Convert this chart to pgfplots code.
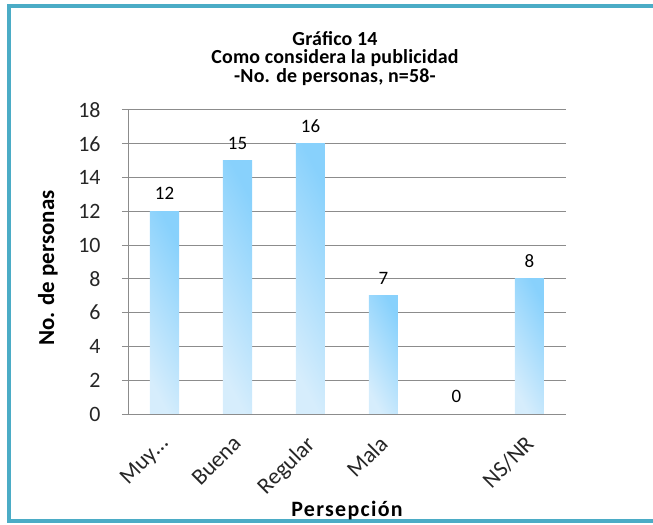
\documentclass[border=0pt]{standalone}
\usepackage{pgfplots}
\pgfplotsset{compat=1.18}
\usepackage{fontspec}
\setmainfont{Carlito}
\definecolor{framec}{HTML}{4BACC6}
\definecolor{gridc}{HTML}{8C8C8C}
\definecolor{barL}{HTML}{D6EDFC}
\definecolor{barR}{HTML}{88D1FC}
\pgfplotsset{mybar/.style={draw=none, bar shift=0pt, bottom color=barL, top color=barR, shading angle=-62}}
\begin{document}
\begin{tikzpicture}
\useasboundingbox (0bp,0bp) rectangle (653bp,525bp);
\draw[framec, line width=4bp] (700bp,519bp) -- (9bp,519bp) -- (9bp,4bp) -- (700bp,4bp);
\begin{axis}[
  at={(128bp,111bp)}, anchor=south west,
  scale only axis, width=438bp, height=304bp,
  xmin=-0.5, xmax=5.5, ymin=0, ymax=18,
  ytick={0,2,...,18},
  ymajorgrids, grid style={gridc, line width=1bp},
  axis x line*=bottom, axis y line*=left,
  axis line style={gridc, line width=1bp},
  tick align=outside, major tick length=6bp,
  y tick style={gridc, line width=1bp},
  /pgf/number format/assume math mode=true,
  yticklabel style={font=\fontsize{22}{22}\selectfont, color=black!85, xshift=-18bp},
  xtick={0,...,5},
  xticklabels={Muy…,Buena,Regular,Mala,,NS/NR},
  x tick style={draw=none},
  xticklabel style={font=\fontsize{23}{23}\selectfont, color=black!85, rotate=45, anchor=north east, xshift=-10.7bp, yshift=-2.6bp},
  extra x ticks={-0.5,0.5,1.5,2.5,3.5,4.5,5.5},
  extra x tick labels={},
  extra x tick style={grid=none, tick style={draw=gridc, line width=1bp}},
  xlabel={Persepción},
  xlabel style={font=\bfseries\fontsize{22}{22}\selectfont\addfontfeature{LetterSpace=6}, at={(axis description cs:0.5,-0.318)}, anchor=center},
  ylabel={No. de personas},
  ylabel style={font=\bfseries\fontsize{23}{23}\selectfont, at={(axis description cs:-0.183,0.48)}, anchor=center},
  title={Gráfico 14\\Como considera la publicidad\\-No. de personas, n=58-},
  title style={font=\bfseries\fontsize{20}{18.5}\selectfont\addfontfeature{LetterSpace=1}, align=center, at={(axis description cs:0.4726,1.15)}, anchor=center},
  ybar, bar width=29bp,
  nodes near coords,
  every node near coord/.append style={font=\fontsize{19}{19}\selectfont, black, yshift=8bp},
]
\addplot[mybar] coordinates {(0,12)};
\addplot[mybar] coordinates {(1,15)};
\addplot[mybar] coordinates {(2,16)};
\addplot[mybar] coordinates {(3,7)};
\addplot[mybar] coordinates {(4,0)};
\addplot[mybar] coordinates {(5,8)};
\end{axis}
\end{tikzpicture}
\end{document}
